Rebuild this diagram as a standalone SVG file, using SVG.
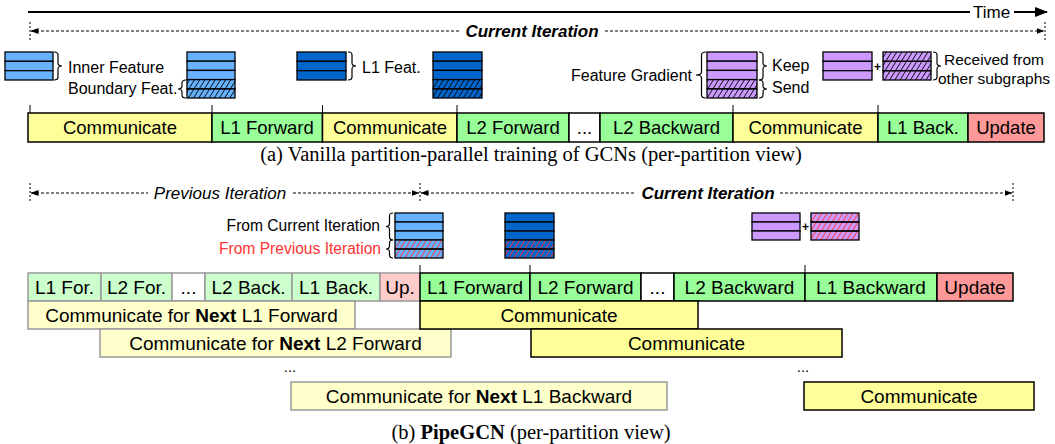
<svg xmlns="http://www.w3.org/2000/svg" width="1055" height="444" viewBox="0 0 1055 444">
<style>
text{font-family:"Liberation Sans",Arial,sans-serif;fill:#000}
.cap{font-family:"Liberation Serif","Times New Roman",serif;font-size:20.5px;text-anchor:middle}
.ra{font-size:18.5px;text-anchor:middle}
.rb{font-size:19px;text-anchor:middle}
.lb{font-size:16px}
.it{font-size:17px;font-style:italic;text-anchor:middle}
.bi{font-weight:bold}
.bx{stroke:#000;stroke-width:1.5}
.pv{stroke:#999;stroke-width:1.5}
.cy{fill:#FFFF99}.cg{fill:#99FF99}.cr{fill:#FF9999}.cw{fill:#FFFFFF}
.py{fill:#FFFFCC}.pg{fill:#CCFFCC}.pr{fill:#FFCCCC}
.lbC{fill:#66B2FF}.dbC{fill:#0066CC}.ppC{fill:#CC99FF}
.row{stroke:#000;stroke-width:1.3}
.hk{fill:url(#hk)}.hr{fill:url(#hr)}
.br{fill:none;stroke:#000;stroke-width:1.2}
.dash{stroke:#000;stroke-width:1;stroke-dasharray:3,2;fill:none}
.vt{stroke:#000;stroke-width:1;stroke-dasharray:2,2}
.tk{stroke:#000;stroke-width:1}
</style>
<defs>
<pattern id="hk" patternUnits="userSpaceOnUse" width="4.4" height="4.4" patternTransform="rotate(32)"><line x1="0" y1="-1" x2="0" y2="6" stroke="#000" stroke-width="1.6"/></pattern>
<pattern id="hr" patternUnits="userSpaceOnUse" width="4.4" height="4.4" patternTransform="rotate(32)"><line x1="0" y1="-1" x2="0" y2="6" stroke="#FF3333" stroke-width="1.7"/></pattern>
<marker id="ah" markerWidth="8" markerHeight="6" refX="7.5" refY="3" orient="auto-start-reverse" markerUnits="userSpaceOnUse"><path d="M0,0 L8,3 L0,6 z" fill="#000"/></marker>
<marker id="big" markerWidth="13" markerHeight="10" refX="12" refY="5" orient="auto" markerUnits="userSpaceOnUse"><path d="M0,0 L13,5 L0,10 z" fill="#000"/></marker>
</defs>

<g id="connectors">
  <line x1="28" y1="12" x2="970" y2="12" stroke="#000" stroke-width="2"/>
  <line x1="1014" y1="12" x2="1047" y2="12" stroke="#000" stroke-width="2" marker-end="url(#big)"/>
  <line class="vt" x1="30" y1="22" x2="30" y2="41"/>
  <line class="vt" x1="1045" y1="22" x2="1045" y2="41"/>
  <line class="dash" x1="31" y1="31" x2="460" y2="31" marker-start="url(#ah)"/>
  <line class="dash" x1="605" y1="31" x2="1044" y2="31" marker-end="url(#ah)"/>
  <line class="tk" x1="30" y1="105" x2="30" y2="113"/>
  <line class="tk" x1="212" y1="105" x2="212" y2="113"/>
  <line class="tk" x1="322.5" y1="105" x2="322.5" y2="113"/>
  <line class="tk" x1="457" y1="105" x2="457" y2="113"/>
  <line class="tk" x1="733" y1="105" x2="733" y2="113"/>
  <line class="tk" x1="878" y1="105" x2="878" y2="113"/>
  <line class="vt" x1="30" y1="183" x2="30" y2="203"/>
  <line class="vt" x1="420" y1="183" x2="420" y2="203"/>
  <line class="vt" x1="1013" y1="183" x2="1013" y2="203"/>
  <line class="dash" x1="31" y1="193" x2="148" y2="193" marker-start="url(#ah)"/>
  <line class="dash" x1="293" y1="193" x2="419" y2="193" marker-end="url(#ah)"/>
  <line class="dash" x1="421" y1="193" x2="636" y2="193" marker-start="url(#ah)"/>
  <line class="dash" x1="780" y1="193" x2="1012" y2="193" marker-end="url(#ah)"/>
  <line class="tk" x1="420" y1="265" x2="420" y2="273"/>
  <line class="tk" x1="530" y1="265" x2="530" y2="273"/>
  <line class="tk" x1="805" y1="265" x2="805" y2="273"/>
</g>

<g id="labels-top">
  <text x="973" y="18" style="font-size:17px">Time</text>
  <text x="532" y="37" class="it bi">Current Iteration</text>
  <text x="220" y="199" class="it">Previous Iteration</text>
  <text x="708" y="199" class="it bi">Current Iteration</text>
</g>

<g id="stack-inner">
  <rect class="row lbC" x="5" y="52" width="48" height="9.33"/>
  <rect class="row lbC" x="5" y="61.33" width="48" height="9.33"/>
  <rect class="row lbC" x="5" y="70.67" width="48" height="9.33"/>
  <path class="br" d="M54 52 Q58 52 58 55 L58 63 Q58 66 62 66 Q58 66 58 69 L58 77 Q58 80 54 80"/>
  <text x="68" y="72.5" class="lb">Inner Feature</text>
  <text x="68" y="93.5" class="lb">Boundary Feat.</text>
</g>
<g id="stack-boundary">
  <rect class="row lbC" x="187" y="52" width="48" height="9.2"/>
  <rect class="row lbC" x="187" y="61.2" width="48" height="9.2"/>
  <rect class="row lbC" x="187" y="70.4" width="48" height="9.2"/>
  <rect class="lbC" x="187" y="79.6" width="48" height="18.4"/>
  <rect class="hk" x="187" y="79.6" width="48" height="18.4"/>
  <rect class="row" fill="none" x="187" y="79.6" width="48" height="9.2"/>
  <rect class="row" fill="none" x="187" y="88.8" width="48" height="9.2"/>
  <path class="br" d="M186 80 Q182 80 182 83 L182 86 Q182 89 178 89 Q182 89 182 92 L182 95 Q182 98 186 98"/>
</g>
<g id="stack-l1feat">
  <rect class="row dbC" x="297" y="52" width="49" height="9.33"/>
  <rect class="row dbC" x="297" y="61.33" width="49" height="9.33"/>
  <rect class="row dbC" x="297" y="70.67" width="49" height="9.33"/>
  <path class="br" d="M348 52 Q352 52 352 55 L352 63 Q352 66 356 66 Q352 66 352 69 L352 77 Q352 80 348 80"/>
  <text x="362" y="72.5" class="lb">L1 Feat.</text>
</g>
<g id="stack-l1feat-full">
  <rect class="row dbC" x="433" y="52" width="49" height="9.2"/>
  <rect class="row dbC" x="433" y="61.2" width="49" height="9.2"/>
  <rect class="row dbC" x="433" y="70.4" width="49" height="9.2"/>
  <rect class="dbC" x="433" y="79.6" width="49" height="18.4"/>
  <rect class="hk" x="433" y="79.6" width="49" height="18.4"/>
  <rect class="row" fill="none" x="433" y="79.6" width="49" height="9.2"/>
  <rect class="row" fill="none" x="433" y="88.8" width="49" height="9.2"/>
</g>
<g id="stack-gradient">
  <text x="692" y="80.5" class="lb" text-anchor="end">Feature Gradient</text>
  <path class="br" d="M706 52 Q701.5 52 701.5 55 L701.5 72 Q701.5 75 696 75 Q701.5 75 701.5 78 L701.5 95 Q701.5 98 706 98"/>
  <rect class="row ppC" x="707" y="52" width="50" height="9.2"/>
  <rect class="row ppC" x="707" y="61.2" width="50" height="9.2"/>
  <rect class="row ppC" x="707" y="70.4" width="50" height="9.2"/>
  <rect class="ppC" x="707" y="79.6" width="50" height="18.4"/>
  <rect class="hk" x="707" y="79.6" width="50" height="18.4"/>
  <rect class="row" fill="none" x="707" y="79.6" width="50" height="9.2"/>
  <rect class="row" fill="none" x="707" y="88.8" width="50" height="9.2"/>
  <path class="br" d="M759 52 Q763 52 763 55 L763 63 Q763 66 767 66 Q763 66 763 69 L763 77 Q763 80 759 80"/>
  <path class="br" d="M759 80 Q763 80 763 83 L763 86 Q763 89 767 89 Q763 89 763 92 L763 95 Q763 98 759 98"/>
  <text x="772" y="70.5" class="lb">Keep</text>
  <text x="772" y="93" class="lb">Send</text>
</g>
<g id="stack-received">
  <rect class="row ppC" x="823" y="52" width="49" height="9.33"/>
  <rect class="row ppC" x="823" y="61.33" width="49" height="9.33"/>
  <rect class="row ppC" x="823" y="70.67" width="49" height="9.33"/>
  <text x="877.5" y="71" style="font-size:12px;font-weight:bold" text-anchor="middle">+</text>
  <rect class="ppC" x="883" y="52" width="48" height="28"/>
  <rect class="hk" x="883" y="52" width="48" height="28"/>
  <rect class="row" fill="none" x="883" y="52" width="48" height="9.33"/>
  <rect class="row" fill="none" x="883" y="61.33" width="48" height="9.33"/>
  <rect class="row" fill="none" x="883" y="70.67" width="48" height="9.33"/>
  <path class="br" d="M933 52 Q937 52 937 55 L937 63 Q937 66 941 66 Q937 66 937 69 L937 77 Q937 80 933 80"/>
  <text x="994" y="65" style="font-size:15.5px" text-anchor="middle">Received from</text>
  <text x="994" y="84" style="font-size:15.5px" text-anchor="middle">other subgraphs</text>
</g>

<g id="a-comm1"><rect class="bx cy" x="28" y="113" width="184" height="29"/><text x="120" y="134" class="ra">Communicate</text></g>
<g id="a-l1fwd"><rect class="bx cg" x="212" y="113" width="110.5" height="29"/><text x="267" y="134" class="ra">L1 Forward</text></g>
<g id="a-comm2"><rect class="bx cy" x="322.5" y="113" width="134.5" height="29"/><text x="390" y="134" class="ra">Communicate</text></g>
<g id="a-l2fwd"><rect class="bx cg" x="457" y="113" width="112" height="29"/><text x="513" y="134" class="ra">L2 Forward</text></g>
<g id="a-dots"><rect class="bx cw" x="569" y="113" width="31" height="29"/><text x="584.5" y="134" class="ra">...</text></g>
<g id="a-l2bwd"><rect class="bx cg" x="600" y="113" width="133" height="29"/><text x="666.5" y="134" class="ra">L2 Backward</text></g>
<g id="a-comm3"><rect class="bx cy" x="733" y="113" width="145" height="29"/><text x="805.5" y="134" class="ra">Communicate</text></g>
<g id="a-l1bwd"><rect class="bx cg" x="878" y="113" width="90" height="29"/><text x="923" y="134" class="ra">L1 Back.</text></g>
<g id="a-update"><rect class="bx cr" x="968" y="113" width="76" height="29"/><text x="1006" y="134" class="ra">Update</text></g>

<text x="531" y="161" class="cap">(a) Vanilla partition-parallel training of GCNs (per-partition view)</text>

<g id="stack-b-feat">
  <text x="380" y="230.5" class="lb" text-anchor="end" style="font-size:15.6px">From Current Iteration</text>
  <text x="381" y="253.5" class="lb" text-anchor="end" style="font-size:15.6px;fill:#FF3333">From Previous Iteration</text>
  <path class="br" d="M393 213 Q389.5 213 389.5 216 L389.5 223.5 Q389.5 226.5 386 226.5 Q389.5 226.5 389.5 229.5 L389.5 237 Q389.5 240 393 240"/>
  <path class="br" d="M393 240 Q389.5 240 389.5 243 L389.5 246 Q389.5 249 386 249 Q389.5 249 389.5 252 L389.5 255 Q389.5 258 393 258"/>
  <rect class="row lbC" x="395" y="213" width="48" height="9"/>
  <rect class="row lbC" x="395" y="222" width="48" height="9"/>
  <rect class="row lbC" x="395" y="231" width="48" height="9"/>
  <rect class="lbC" x="395" y="240" width="48" height="18"/>
  <rect class="hr" x="395" y="240" width="48" height="18"/>
  <rect class="row" fill="none" x="395" y="240" width="48" height="9"/>
  <rect class="row" fill="none" x="395" y="249" width="48" height="9"/>
</g>
<g id="stack-b-l1feat">
  <rect class="row dbC" x="505" y="213" width="49" height="9"/>
  <rect class="row dbC" x="505" y="222" width="49" height="9"/>
  <rect class="row dbC" x="505" y="231" width="49" height="9"/>
  <rect class="dbC" x="505" y="240" width="49" height="18"/>
  <rect class="hr" x="505" y="240" width="49" height="18"/>
  <rect class="row" fill="none" x="505" y="240" width="49" height="9"/>
  <rect class="row" fill="none" x="505" y="249" width="49" height="9"/>
</g>
<g id="stack-b-grad">
  <rect class="row ppC" x="752" y="213" width="48" height="9"/>
  <rect class="row ppC" x="752" y="222" width="48" height="9"/>
  <rect class="row ppC" x="752" y="231" width="48" height="9"/>
  <text x="805.5" y="231" style="font-size:12px;font-weight:bold" text-anchor="middle">+</text>
  <rect class="ppC" x="811" y="213" width="48" height="27"/>
  <rect class="hr" x="811" y="213" width="48" height="27"/>
  <rect class="row" fill="none" x="811" y="213" width="48" height="9"/>
  <rect class="row" fill="none" x="811" y="222" width="48" height="9"/>
  <rect class="row" fill="none" x="811" y="231" width="48" height="9"/>
</g>

<g id="b-prev-l1for"><rect class="pv pg" x="28" y="273" width="73" height="28"/><text x="64.5" y="294" class="rb">L1 For.</text></g>
<g id="b-prev-l2for"><rect class="pv pg" x="101" y="273" width="71" height="28"/><text x="136.5" y="294" class="rb">L2 For.</text></g>
<g id="b-prev-dots"><rect class="pv cw" x="172" y="273" width="33" height="28"/><text x="188.5" y="294" class="rb">...</text></g>
<g id="b-prev-l2back"><rect class="pv pg" x="205" y="273" width="87" height="28"/><text x="248.5" y="294" class="rb">L2 Back.</text></g>
<g id="b-prev-l1back"><rect class="pv pg" x="292" y="273" width="88" height="28"/><text x="336" y="294" class="rb">L1 Back.</text></g>
<g id="b-prev-up"><rect class="pv pr" x="380" y="273" width="40" height="28"/><text x="400" y="294" class="rb">Up.</text></g>

<g id="b-next-l1fwd"><rect class="pv py" x="28" y="301" width="327" height="28"/><text x="191.5" y="322" class="rb">Communicate for <tspan font-weight="bold">Next</tspan> L1 Forward</text></g>
<g id="b-next-l2fwd"><rect class="pv py" x="100" y="329" width="351" height="28"/><text x="275.5" y="350" class="rb">Communicate for <tspan font-weight="bold">Next</tspan> L2 Forward</text></g>
<g id="b-next-l1bwd"><rect class="pv py" x="291" y="382" width="376" height="28"/><text x="479" y="403" class="rb">Communicate for <tspan font-weight="bold">Next</tspan> L1 Backward</text></g>

<g id="b-l1fwd"><rect class="bx cg" x="420" y="273" width="110" height="28"/><text x="475" y="294" class="rb">L1 Forward</text></g>
<g id="b-l2fwd"><rect class="bx cg" x="530" y="273" width="111" height="28"/><text x="585.5" y="294" class="rb">L2 Forward</text></g>
<g id="b-dots"><rect class="bx cw" x="641" y="273" width="33" height="28"/><text x="657.5" y="294" class="rb">...</text></g>
<g id="b-l2bwd"><rect class="bx cg" x="674" y="273" width="131" height="28"/><text x="739.5" y="294" class="rb">L2 Backward</text></g>
<g id="b-l1bwd"><rect class="bx cg" x="805" y="273" width="132" height="28"/><text x="871" y="294" class="rb">L1 Backward</text></g>
<g id="b-update"><rect class="bx cr" x="937" y="273" width="76" height="28"/><text x="975" y="294" class="rb">Update</text></g>

<g id="b-comm1"><rect class="bx cy" x="420" y="301" width="278" height="28"/><text x="559" y="322" class="rb">Communicate</text></g>
<g id="b-comm2"><rect class="bx cy" x="531" y="329" width="311" height="28"/><text x="686.5" y="350" class="rb">Communicate</text></g>
<g id="b-comm3"><rect class="bx cy" x="804" y="382" width="230" height="28"/><text x="919" y="403" class="rb">Communicate</text></g>

<text x="290" y="372" style="font-size:15px" text-anchor="middle">...</text>
<text x="803" y="372" style="font-size:15px" text-anchor="middle">...</text>

<text x="531" y="439" class="cap">(b) <tspan font-weight="bold">PipeGCN</tspan> (per-partition view)</text>
</svg>
